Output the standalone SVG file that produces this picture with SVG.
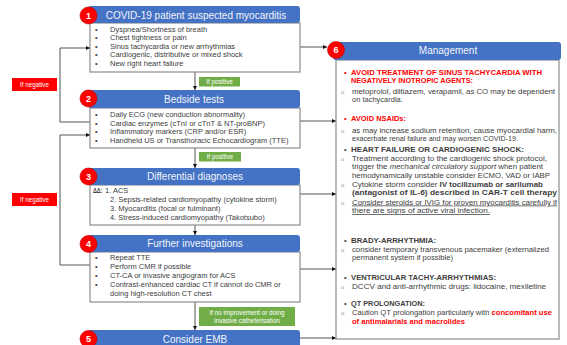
<svg xmlns="http://www.w3.org/2000/svg" width="567" height="345" viewBox="0 0 567 345">
<defs>
<marker id="arr" viewBox="0 0 6 6" refX="6" refY="3" markerWidth="4" markerHeight="4" orient="auto" markerUnits="userSpaceOnUse">
<path d="M0,0 L6,3 L0,6 z" fill="#111"/>
</marker>
<style>
.hdr{fill:#4472C4;}
.body{fill:#fff;stroke:#8c8c8c;stroke-width:1.2;}
.num{fill:#FF0000;stroke:#c00000;stroke-width:0.6;}
.numt{font-family:"Liberation Sans",Arial,sans-serif;font-size:9px;font-weight:bold;fill:#fff;text-anchor:middle;}
.ht{font-family:"Liberation Sans",Arial,sans-serif;font-size:10px;fill:#f2f5fb;text-anchor:middle;}
.t{font-family:"Liberation Sans",Arial,sans-serif;font-size:7.5px;fill:#404040;}
.b{font-weight:bold;}
.red{fill:#FF0000;}
.sub{font-family:"Liberation Sans",Arial,sans-serif;font-size:6px;fill:#9a9a9a;}
.ln{fill:none;stroke:#555;stroke-width:1;}
.lab{font-family:"Liberation Sans",Arial,sans-serif;font-size:6.3px;fill:#fff;text-anchor:middle;}
.neg{fill:#FF0000;}
.pos{fill:#70AD47;}
</style>
</defs>
<rect width="567" height="345" fill="#fff"/>

<g id="connectors">
<path class="ln" d="M195,72 V90" marker-end="url(#arr)"/>
<path class="ln" d="M195,148 V168" marker-end="url(#arr)"/>
<path class="ln" d="M195,225 V235" marker-end="url(#arr)"/>
<path class="ln" d="M195,302 V330" marker-end="url(#arr)"/>
<path class="ln" d="M90,122 H60 V48 H90" marker-end="url(#arr)"/>
<path class="ln" d="M90,265 H60 V135 H90" marker-end="url(#arr)"/>
<path class="ln" d="M300,47 H327" marker-end="url(#arr)"/>
<path class="ln" d="M300,121 H336" marker-end="url(#arr)"/>
<path class="ln" d="M300,194 H336" marker-end="url(#arr)"/>
<path class="ln" d="M300,269 H336" marker-end="url(#arr)"/>
<path class="ln" d="M300,338 H336" marker-end="url(#arr)"/>
</g>

<g id="labels">
<rect class="neg" x="12" y="78" width="45" height="13"/>
<text class="lab" x="34.5" y="86.8">If negative</text>
<rect class="neg" x="12" y="193" width="45" height="13"/>
<text class="lab" x="34.5" y="201.8">If negative</text>
<rect class="pos" x="199" y="77" width="41" height="9.5"/>
<text class="lab" x="219.5" y="84">If positive</text>
<rect class="pos" x="199" y="152" width="42" height="9.5"/>
<text class="lab" x="220" y="159">If positive</text>
<rect class="pos" x="199" y="307" width="96" height="19"/>
<text class="lab" x="247" y="314.5">If no improvement or doing</text>
<text class="lab" x="247" y="322.5">invasive catheterisation</text>
</g>

<g id="node1">
<rect class="body" x="90" y="23" width="210" height="49"/>
<rect class="hdr" x="88" y="6" width="212" height="17" rx="3"/>
<circle class="num" cx="88.5" cy="15.5" r="8.5"/>
<text class="numt" x="88.5" y="18.8">1</text>
<text class="ht" x="196" y="18.5">COVID-19 patient suspected myocarditis</text>
<g class="t">
<text x="95" y="31.5">•</text><text x="110" y="31.5">Dyspnea/Shortness of breath</text>
<text x="95" y="40">•</text><text x="110" y="40">Chest tightness or pain</text>
<text x="95" y="48.5">•</text><text x="110" y="48.5">Sinus tachycardia or new arrhythmias</text>
<text x="95" y="57">•</text><text x="110" y="57">Cardiogenic, distributive or mixed shock</text>
<text x="95" y="65.5">•</text><text x="110" y="65.5">New right heart failure</text>
</g>
</g>

<g id="node2">
<rect class="body" x="90" y="108" width="210" height="40"/>
<rect class="hdr" x="88" y="90" width="212" height="18" rx="3"/>
<circle class="num" cx="88.5" cy="98.5" r="8.5"/>
<text class="numt" x="88.5" y="101.8">2</text>
<text class="ht" x="194" y="102.5">Bedside tests</text>
<g class="t">
<text x="95" y="116.5">•</text><text x="110" y="116.5">Daily ECG (new conduction abnormality)</text>
<text x="95" y="125.5">•</text><text x="110" y="125.5">Cardiac enzymes (cTnI or cTnT &amp; NT-proBNP)</text>
<text x="95" y="134">•</text><text x="110" y="134">Inflammatory markers (CRP and/or ESR)</text>
<text x="95" y="143">•</text><text x="110" y="143">Handheld US or Transthoracic Echocardiogram (TTE)</text>
</g>
</g>

<g id="node3">
<rect class="body" x="90" y="185" width="210" height="40"/>
<rect class="hdr" x="88" y="168" width="212" height="17" rx="3"/>
<circle class="num" cx="88.5" cy="176.5" r="8.5"/>
<text class="numt" x="88.5" y="179.8">3</text>
<text class="ht" x="195" y="180">Differential diagnoses</text>
<g class="t">
<text x="93" y="192.5" class="b" font-size="6.5" textLength="9.5" lengthAdjust="spacingAndGlyphs">ΔΔ:</text><text x="105" y="192.5">1. ACS</text>
<text x="110" y="201.5">2. Sepsis-related cardiomyopathy (cytokine storm)</text>
<text x="110" y="210.5">3. Myocarditis (focal or fulminant)</text>
<text x="110" y="220">4. Stress-induced cardiomyopathy (Takotsubo)</text>
</g>
</g>

<g id="node4">
<rect class="body" x="90" y="252" width="210" height="50"/>
<rect class="hdr" x="88" y="235" width="212" height="17" rx="3"/>
<circle class="num" cx="88.5" cy="244" r="8.5"/>
<text class="numt" x="88.5" y="247.3">4</text>
<text class="ht" x="195" y="247">Further investigations</text>
<g class="t">
<text x="95" y="259.5">•</text><text x="110" y="259.5">Repeat TTE</text>
<text x="95" y="268.5">•</text><text x="110" y="268.5">Perform CMR if possible</text>
<text x="95" y="278">•</text><text x="110" y="278">CT-CA  or invasive angiogram for ACS</text>
<text x="95" y="287">•</text><text x="110" y="287">Contrast-enhanced cardiac CT if cannot do CMR or</text>
<text x="110" y="295.5">doing high-resolution CT chest</text>
</g>
</g>

<g id="node5">
<rect class="hdr" x="88" y="330" width="212" height="20" rx="3"/>
<circle class="num" cx="88.5" cy="339" r="8.5"/>
<text class="numt" x="88.5" y="342.3">5</text>
<text class="ht" x="195" y="343">Consider EMB</text>
</g>

<g id="node6">
<rect class="body" x="336" y="60" width="223" height="279"/>
<rect class="hdr" x="333" y="42" width="228" height="18" rx="3"/>
<circle class="num" cx="336" cy="50" r="8.5"/>
<text class="numt" x="336" y="53.3">6</text>
<text class="ht" x="448" y="53.5">Management</text>
<g class="t">
<text x="344" y="74.7" class="red">•</text>
<text x="351" y="74.7" class="b red" textLength="191" lengthAdjust="spacingAndGlyphs">AVOID TREATMENT OF SINUS TACHYCARDIA WITH</text>
<text x="351" y="83" class="b red" textLength="122" lengthAdjust="spacingAndGlyphs">NEGATIVELY INOTROPIC  AGENTS:</text>
<text x="341" y="93.5" class="sub">o</text>
<text x="352" y="93.5" textLength="203" lengthAdjust="spacingAndGlyphs"> metoprolol, diltiazem, verapamil, as CO may be dependent</text>
<text x="352" y="101.5">on tachycardia.</text>

<text x="344" y="120.5" class="red">•</text>
<text x="351" y="120.5" class="b red" textLength="55" lengthAdjust="spacingAndGlyphs">AVOID NSAIDs:</text>
<text x="341" y="132.5" class="sub">o</text>
<text x="352" y="132.5" textLength="205" lengthAdjust="spacingAndGlyphs">as may increase sodium retention, cause myocardial harm,</text>
<text x="352" y="140.5" textLength="166" lengthAdjust="spacingAndGlyphs">exacerbate renal failure and may worsen COVID-19.</text>

<text x="344" y="151.5">•</text>
<text x="351" y="151.5" class="b" textLength="173" lengthAdjust="spacingAndGlyphs">HEART FAILURE OR CARDIOGENIC SHOCK:</text>
<text x="341" y="160.5" class="sub">o</text>
<text x="352" y="160.5" textLength="195" lengthAdjust="spacingAndGlyphs">Treatment according to the cardiogenic shock protocol,</text>
<text x="352" y="169" textLength="191" lengthAdjust="spacingAndGlyphs">trigger the <tspan font-style="italic">mechanical circulatory support</tspan> when patient</text>
<text x="352" y="177.5" textLength="198" lengthAdjust="spacingAndGlyphs">hemodynamically unstable consider ECMO, VAD or IABP</text>
<text x="341" y="186.5" class="sub">o</text>
<text x="352" y="186.5" textLength="191" lengthAdjust="spacingAndGlyphs">Cytokine storm consider <tspan class="b">IV tocilizumab or sarilumab</tspan></text>
<text x="352" y="195" class="b" textLength="205" lengthAdjust="spacingAndGlyphs">(antagonist of IL-6) described in CAR-T cell therapy</text>
<text x="341" y="204.5" class="sub">o</text>
<text x="352" y="204.5" text-decoration="underline" textLength="205" lengthAdjust="spacingAndGlyphs">Consider steroids or IVIG for proven myocarditis carefully if</text>
<text x="352" y="213" text-decoration="underline" textLength="138" lengthAdjust="spacingAndGlyphs">there are signs of active viral infection.</text>

<text x="344" y="242.5">•</text>
<text x="351" y="242.5" class="b" textLength="85" lengthAdjust="spacingAndGlyphs">BRADY-ARRHYTHMIA:</text>
<text x="341" y="251.5" class="sub">o</text>
<text x="352" y="251.5" textLength="197" lengthAdjust="spacingAndGlyphs">consider temporary transvenous pacemaker (externalized</text>
<text x="352" y="260" textLength="101" lengthAdjust="spacingAndGlyphs">permanent system if possible)</text>

<text x="344" y="279.5">•</text>
<text x="351" y="279.5" class="b" textLength="145" lengthAdjust="spacingAndGlyphs">VENTRICULAR TACHY-ARRHYTHMIAS:</text>
<text x="341" y="288.5" class="sub">o</text>
<text x="352" y="288.5" textLength="194" lengthAdjust="spacingAndGlyphs">DCCV and anti-arrhythmic drugs: lidocaine, mexiletine</text>

<text x="344" y="305.5">•</text>
<text x="351" y="305.5" class="b" textLength="74" lengthAdjust="spacingAndGlyphs">QT PROLONGATION:</text>
<text x="341" y="314.5" class="sub">o</text>
<text x="352" y="314.5" textLength="200" lengthAdjust="spacingAndGlyphs">Caution QT  prolongation particularly with <tspan class="b red">concomitant use</tspan></text>
<text x="352" y="323.5" class="b red" textLength="113" lengthAdjust="spacingAndGlyphs">of antimalarials and macrolides</text>
</g>
</g>
</svg>
